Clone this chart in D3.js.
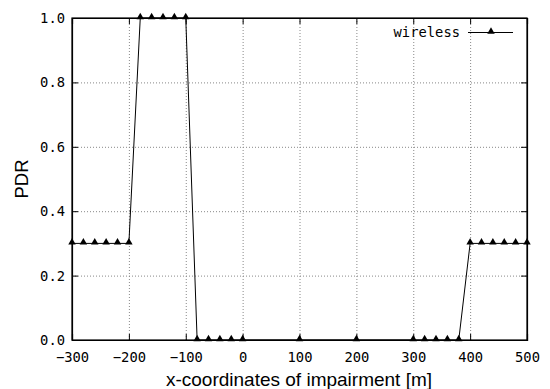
<!DOCTYPE html>
<html><head><meta charset="utf-8">
<script src="https://cdn.jsdelivr.net/npm/d3@7"></script>
<style>body{margin:0;background:#fff}svg{display:block}</style>
</head><body>
<script>
const xValues = [-300,-280,-260,-240,-220,-200,-180,-160,-140,-120,-100,-80,-60,-40,-20,0,100,200,300,320,340,360,380,400,420,440,460,480,500];
const pdrValues = [0.3,0.3,0.3,0.3,0.3,0.3,1,1,1,1,1,0,0,0,0,0,0,0,0,0,0,0,0,0.3,0.3,0.3,0.3,0.3,0.3];
const xTicks = [-300,-200,-100,0,100,200,300,400,500];
const yTicks = [0,0.2,0.4,0.6,0.8,1.0];
const seriesName = "wireless";
const xLabel = "x-coordinates of impairment [m]";
const yLabel = "PDR";

const W=550,H=389, L=72,R=527,T=18,B=340;
const svg=d3.select("body").append("svg").attr("width",W).attr("height",H);
const x=d3.scaleLinear().domain([-300,500]).range([L,R]);
const y=d3.scaleLinear().domain([0,1]).range([B,T]);
const mono="'DejaVu Sans Mono', monospace";
const fs=13.8;

// grid
const g=svg.append("g");
g.selectAll(".vx").data(xTicks.slice(1,-1)).join("line")
 .attr("x1",d=>x(d)+0.5).attr("x2",d=>x(d)+0.5).attr("y1",T).attr("y2",B)
 .attr("stroke","#888").attr("stroke-width",1).attr("stroke-dasharray","1,2");
g.selectAll(".hy").data(yTicks.slice(1,-1)).join("line")
 .attr("y1",d=>y(d)+0.5).attr("y2",d=>y(d)+0.5).attr("x1",L).attr("x2",R)
 .attr("stroke","#888").attr("stroke-width",1).attr("stroke-dasharray","1,2");

// axes
const ax=svg.append("g").attr("transform",`translate(0,${B})`)
 .call(d3.axisBottom(x).tickValues(xTicks).tickSize(-6).tickPadding(12).tickFormat(d3.format("d")));
const ax2=svg.append("g").attr("transform",`translate(0,${T})`)
 .call(d3.axisTop(x).tickValues(xTicks).tickSize(-6).tickFormat(""));
const ay=svg.append("g").attr("transform",`translate(${L},0)`)
 .call(d3.axisLeft(y).tickValues(yTicks).tickSize(-6).tickPadding(7).tickFormat(d3.format(".1f")));
const ay2=svg.append("g").attr("transform",`translate(${R},0)`)
 .call(d3.axisRight(y).tickValues(yTicks).tickSize(-6).tickFormat(""));
[ax,ax2,ay,ay2].forEach(a=>{a.selectAll("text").attr("font-family",mono).attr("font-size",fs).attr("fill","#000");
 a.selectAll("path").attr("stroke","#000").attr("stroke-width",1.2);});
svg.append("rect").attr("x",L).attr("y",T).attr("width",R-L).attr("height",B-T).attr("fill","none").attr("stroke","#000").attr("stroke-width",1.2);

// line
const data=xValues.map((v,i)=>({x:v,y:pdrValues[i]}));
svg.append("path").datum(data).attr("fill","none").attr("stroke","#000").attr("stroke-width",1)
 .attr("d",d3.line().x(d=>x(d.x)).y(d=>y(d.y)));
const tri=d3.symbol().type(d3.symbolTriangle).size(24);
svg.selectAll(".m").data(data).join("path").attr("d",tri)
 .attr("transform",d=>`translate(${x(d.x)},${y(d.y)-1})`).attr("fill","#000");

// legend
svg.append("text").attr("x",460).attr("y",37).attr("text-anchor","end").attr("font-family",mono).attr("font-size",fs).text(seriesName);
svg.append("line").attr("x1",468).attr("x2",513).attr("y1",32.5).attr("y2",32.5).attr("stroke","#000");
svg.append("path").attr("d",tri).attr("transform","translate(491,31.5)");

// labels
const sans="'Liberation Sans', Arial, sans-serif";
svg.append("text").attr("x",299).attr("y",386).attr("text-anchor","middle").attr("font-family",sans).attr("font-size",19).text(xLabel);
svg.append("text").attr("transform",`translate(28,${179}) rotate(-90)`).attr("text-anchor","middle").attr("font-family",sans).attr("font-size",18.5).text(yLabel);
</script>
</body></html>
